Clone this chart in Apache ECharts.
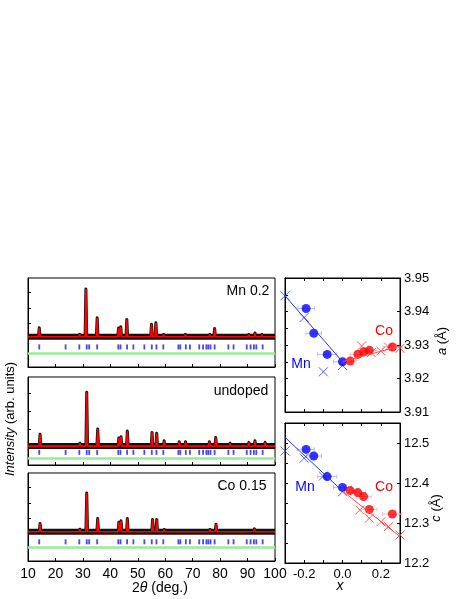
<!DOCTYPE html>
<html>
<head>
<meta charset="utf-8">
<script src="https://cdn.jsdelivr.net/npm/echarts@6/dist/echarts.min.js"></script>
<style>
  html, body { margin: 0; padding: 0; background: #fff; }
  #chart { width: 463px; height: 599px; }
</style>
</head>
<body>
<div id="chart"></div>
<script>
// XRD patterns: [2theta, peak top]
const peaksMn = [[14.1,0.72],[28.8,0.3],[31.1,3.21],[35.2,1.36],[43.0,0.7],[43.8,0.78],[46.0,1.26],[55.0,0.94],[56.6,1.04],[59.4,0.29],[64.9,0.25],[67.3,0.29],[76.2,0.29],[78.0,0.68],[83.5,0.18],[90.4,0.29],[92.7,0.39],[95.2,0.29]];
const peaksUndoped = [[14.4,0.70],[28.9,0.2],[31.4,3.06],[35.4,1.0],[43.1,0.5],[43.9,0.57],[46.2,0.89],[55.2,0.81],[56.9,0.76],[59.6,0.34],[65.1,0.29],[67.4,0.29],[76.1,0.29],[78.4,0.53],[83.6,0.2],[90.5,0.25],[92.7,0.34],[96.4,0.25]];
const peaksCo = [[14.4,0.68],[28.9,0.3],[31.4,2.65],[35.4,1.0],[43.1,0.75],[43.9,0.85],[46.2,1.0],[55.4,0.94],[56.9,0.94],[59.6,0.29],[65.1,0.25],[67.4,0.25],[76.3,0.29],[78.5,0.63],[83.6,0.18],[90.5,0.25],[92.5,0.33],[96.4,0.25]];
const baseMn = 0.14, baseUndoped = 0.04, baseCo = 0.14;

// Bragg reflection positions (2theta)
const braggPos = [14.1,23.7,28.7,31.4,32.3,35.2,42.9,43.7,46.1,48.4,52.4,55.1,56.8,59.3,64.8,65.5,67.5,69.0,72.4,73.8,75.0,75.7,76.5,78.0,83.0,84.9,89.7,91.1,92.3,93.2,95.5];
const braggLevel = [-0.51, -0.31, -0.51];
const diffLevel = [-0.94, -0.65, -0.87];
const panelNames = ['Mn 0.2', 'undoped', 'Co 0.15'];

// lattice parameters vs x
const mnX = [-0.19, -0.15, -0.08, 0];
const mnA = [3.9409, 3.9335, 3.9272, 3.925];
const mnC = [12.484, 12.4675, 12.416, 12.389];
const mnErr = [0.043, 0.04, 0.05, 0.047];
const coX = [0.04, 0.08, 0.11, 0.14, 0.26];
const coA = [3.9252, 3.9272, 3.928, 3.9284, 3.9294];
const coC = [12.381, 12.376, 12.366, 12.334, 12.3225];
const coErr = [0.03, 0.04, 0.04, 0.04, 0.05];
const litMnXa = [-0.3, -0.2, -0.1, 0];
const litMnA = [3.9447, 3.9382, 3.922, 3.9239];
const litMnXc = [-0.3, -0.2, -0.1, 0];
const litMnC = [12.48, 12.462, 12.4175, 12.378];
const litCoXa = [0.1, 0.15, 0.2, 0.24, 0.3];
const litCoA = [3.9297, 3.9277, 3.9282, 3.9294, 3.929];
const litCoXc = [0.09, 0.14, 0.2, 0.24, 0.3];
const litCoC = [12.3325, 12.312, 12.303, 12.291, 12.27];
const fitMnA = [[-0.3, 3.9447], [0, 3.925]];
const fitCoA = [[0, 3.925], [0.3, 3.9297]];
const fitMnC = [[-0.3, 12.514], [0, 12.38]];
const fitCoC = [[0, 12.38], [0.3, 12.266]];

const FONT = '"Liberation Sans", Arial, sans-serif';
const chart = echarts.init(document.getElementById('chart'));

// polyline through baseline and each peak top
function profile(peaks, base) {
  const pts = [[10, base]];
  peaks.forEach(([p, h]) => { pts.push([p - 0.3, base], [p, h], [p + 0.3, base]); });
  pts.push([100, base]);
  return pts;
}

const crossPath = 'path://M0,0L10,10M10,0L0,10';

const leftGrids = [
  { left: 28, top: 278, width: 247, height: 89 },
  { left: 28, top: 377, width: 247, height: 88 },
  { left: 28, top: 473, width: 247, height: 88 }
];
const yRanges = [[-1.8, 3.92], [-1.02, 3.92], [-1.75, 3.94]];
const allPeaks = [peaksMn, peaksUndoped, peaksCo];
const bases = [baseMn, baseUndoped, baseCo];

const grids = leftGrids.map(g => Object.assign({ show: true, borderColor: '#000', borderWidth: 1 }, g));
grids.push({ show: true, borderColor: '#000', borderWidth: 1, left: 285, top: 278, width: 115, height: 134 });
grids.push({ show: true, borderColor: '#000', borderWidth: 1, left: 285, top: 423, width: 115, height: 140 });

const xAxes = [], yAxes = [], series = [];
const axisLine = { show: true, onZero: false, lineStyle: { color: '#000', width: 1 } };

leftGrids.forEach((g, i) => {
  xAxes.push({
    type: 'value', gridIndex: i, min: 10, max: 100, interval: 10,
    axisLine, splitLine: { show: false },
    axisTick: { inside: true, length: 3, lineStyle: { color: '#000' } },
    axisLabel: { show: i === 2, color: '#000', fontSize: 14, fontFamily: FONT, margin: 6 }
  });
  yAxes.push({
    type: 'value', gridIndex: i, min: yRanges[i][0], max: yRanges[i][1],
    axisLine, splitLine: { show: false },
    axisTick: { inside: true, length: 3, customValues: [1, 2, 3], lineStyle: { color: '#000' } },
    axisLabel: { show: false }
  });
  const prof = profile(allPeaks[i], bases[i]);
  series.push({
    type: 'line', xAxisIndex: i, yAxisIndex: i, data: diffLine(i), symbol: 'none',
    lineStyle: { color: '#96ee96', width: 2.5 }, silent: true
  });
  series.push({
    type: 'scatter', xAxisIndex: i, yAxisIndex: i,
    data: braggPos.map(p => [p, braggLevel[i]]),
    symbol: 'rect', symbolSize: [1.8, 5], itemStyle: { color: '#1a1aee' }
  });
  // observed points: dark band around the background and the peaks
  series.push({
    type: 'line', xAxisIndex: i, yAxisIndex: i, data: [[10, bases[i]], [100, bases[i]]], symbol: 'none',
    lineStyle: { color: '#111', width: 6 }, silent: true
  });
  series.push({
    type: 'line', xAxisIndex: i, yAxisIndex: i, data: prof, symbol: 'none',
    lineStyle: { color: '#111', width: 3, join: 'round' }, silent: true
  });
  series.push({
    type: 'line', xAxisIndex: i, yAxisIndex: i, data: prof, symbol: 'none',
    lineStyle: { color: '#ff0000', width: 1.6 }, silent: true
  });
});

function diffLine(i) {
  return [[10, diffLevel[i]], [100, diffLevel[i]]];
}

// right panels: a (grid 3) and c (grid 4)
function rightAxes(gi, yMin, yMax, yInt, yMinor, decimals, showX, showMax) {
  const tick = { inside: true, length: 3, lineStyle: { color: '#000' } };
  xAxes.push({
    type: 'value', gridIndex: gi, min: -0.3, max: 0.3, interval: 0.1, position: 'bottom',
    axisLine, splitLine: { show: false }, axisTick: tick,
    axisLabel: {
      show: showX, color: '#000', fontSize: 13, fontFamily: FONT, margin: 5,
      formatter: v => (Math.abs(Math.abs(v) - 0.2) < 1e-6 || Math.abs(v) < 1e-6) ? (Math.abs(v) < 1e-6 ? '0.0' : v.toFixed(1)) : ''
    }
  });
  xAxes.push({
    type: 'value', gridIndex: gi, min: -0.3, max: 0.3, interval: 0.1, position: 'top',
    axisLine, splitLine: { show: false }, axisTick: tick, axisLabel: { show: false }
  });
  yAxes.push({
    type: 'value', gridIndex: gi, min: yMin, max: yMax, interval: yInt, position: 'right',
    axisLine, splitLine: { show: false }, axisTick: tick,
    axisLabel: { color: '#000', fontSize: 13, fontFamily: FONT, margin: 4, showMaxLabel: showMax,
      showMinLabel: true, formatter: v => v.toFixed(decimals) }
  });
  yAxes.push({
    type: 'value', gridIndex: gi, min: yMin, max: yMax, interval: yMinor, position: 'left',
    axisLine, splitLine: { show: false }, axisTick: tick, axisLabel: { show: false }
  });
}
rightAxes(3, 3.91, 3.95, 0.01, 0.005, 2, false, true);
rightAxes(4, 12.2, 12.55, 0.1, 0.05, 1, true, false);

function errBars(xi, yi, xs, ys, es, color) {
  return {
    type: 'custom', xAxisIndex: xi, yAxisIndex: yi, silent: true,
    data: xs.map((x, k) => [x, ys[k], es[k]]),
    renderItem: (params, api) => {
      const x = api.value(0), y = api.value(1), e = api.value(2);
      const p1 = api.coord([x - e, y]), p2 = api.coord([x + e, y]);
      const st = { stroke: color, lineWidth: 1 };
      return { type: 'group', children: [
        { type: 'line', shape: { x1: p1[0], y1: p1[1], x2: p2[0], y2: p2[1] }, style: st },
        { type: 'line', shape: { x1: p1[0], y1: p1[1] - 2, x2: p1[0], y2: p1[1] + 2 }, style: st },
        { type: 'line', shape: { x1: p2[0], y1: p2[1] - 2, x2: p2[0], y2: p2[1] + 2 }, style: st }
      ] };
    }
  };
}

function latticeSeries(xi, yi, fitMn, fitCo, litMnX, litMnY, litCoX, litCoY, mnY, coY) {
  series.push(errBars(xi, yi, mnX, mnY, mnErr, '#b8bcff'));
  series.push(errBars(xi, yi, coX, coY, coErr, '#ffb8c8'));
  series.push({ type: 'line', xAxisIndex: xi, yAxisIndex: yi, data: fitMn, symbol: 'none',
    lineStyle: { color: '#2a35e0', width: 1 }, silent: true });
  series.push({ type: 'line', xAxisIndex: xi, yAxisIndex: yi, data: fitCo, symbol: 'none',
    lineStyle: { color: '#ff5050', width: 1 }, silent: true });
  series.push({ type: 'scatter', xAxisIndex: xi, yAxisIndex: yi, data: litMnX.map((x, k) => [x, litMnY[k]]),
    symbol: crossPath, symbolSize: 9, itemStyle: { color: 'none', borderColor: '#3040f0', borderWidth: 1 } });
  series.push({ type: 'scatter', xAxisIndex: xi, yAxisIndex: yi, data: litCoX.map((x, k) => [x, litCoY[k]]),
    symbol: crossPath, symbolSize: 9, itemStyle: { color: 'none', borderColor: '#ff3030', borderWidth: 1 } });
  series.push({ type: 'scatter', xAxisIndex: xi, yAxisIndex: yi, data: mnX.map((x, k) => [x, mnY[k]]),
    symbol: 'circle', symbolSize: 9, itemStyle: { color: '#0000ff' } });
  series.push({ type: 'scatter', xAxisIndex: xi, yAxisIndex: yi, data: coX.map((x, k) => [x, coY[k]]),
    symbol: 'circle', symbolSize: 9, itemStyle: { color: '#ff0000' } });
}
latticeSeries(3, 3, fitMnA, fitCoA, litMnXa, litMnA, litCoXa, litCoA, mnA, coA);
latticeSeries(5, 5, fitMnC, fitCoC, litMnXc, litMnC, litCoXc, litCoC, mnC, coC);

function txt(x, y, text, opts) {
  return Object.assign({ type: 'text', x, y, style: Object.assign({
    text, font: '14px ' + FONT, fill: '#000', align: 'center', verticalAlign: 'middle' }, opts || {}) });
}

const graphic = [
  txt(248, 291, panelNames[0]),
  txt(241, 391, panelNames[1]),
  txt(242, 486, panelNames[2]),
  txt(301, 364, 'Mn', { fill: '#0000ff' }),
  txt(384, 331, 'Co', { fill: '#ff0000' }),
  txt(305, 487, 'Mn', { fill: '#0000ff' }),
  txt(384, 487, 'Co', { fill: '#ff0000' }),
  { type: 'text', x: 10, y: 419, rotation: Math.PI / 2, style: {
      text: '{i|Intensity} (arb. units)', font: '13px ' + FONT, fill: '#000', align: 'center', verticalAlign: 'middle',
      rich: { i: { font: 'italic 13px ' + FONT } } } },
  { type: 'text', x: 160, y: 588, style: {
      text: '2{i|θ} (deg.)', font: '14px ' + FONT, fill: '#000', align: 'center', verticalAlign: 'middle',
      rich: { i: { font: 'italic 14px ' + FONT } } } },
  txt(340, 586, 'x', { font: 'italic 14px ' + FONT }),
  { type: 'text', x: 442, y: 341, rotation: Math.PI / 2, style: {
      text: '{i|a} (Å)', font: '13px ' + FONT, fill: '#000', align: 'center', verticalAlign: 'middle',
      rich: { i: { font: 'italic 13px ' + FONT } } } },
  { type: 'text', x: 436, y: 508, rotation: Math.PI / 2, style: {
      text: '{i|c} (Å)', font: '13px ' + FONT, fill: '#000', align: 'center', verticalAlign: 'middle',
      rich: { i: { font: 'italic 13px ' + FONT } } } }
];

chart.setOption({
  animation: false,
  backgroundColor: '#fff',
  grid: grids,
  xAxis: xAxes,
  yAxis: yAxes,
  series,
  graphic
});
</script>
</body>
</html>
